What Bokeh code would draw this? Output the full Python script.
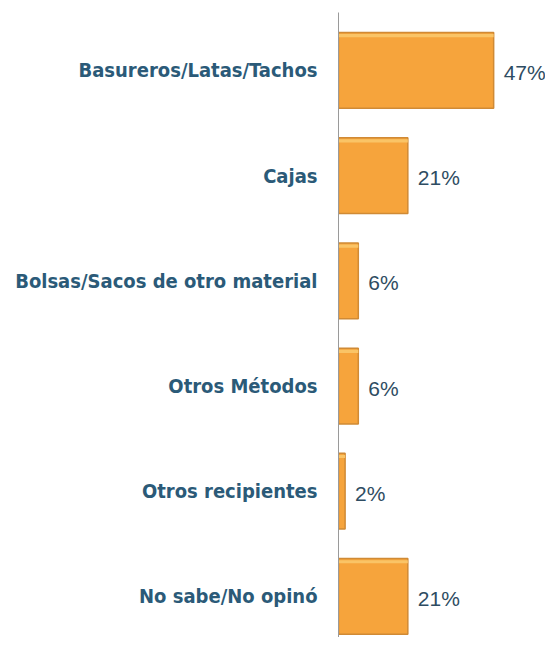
from bokeh.plotting import figure
from bokeh.models import ColumnDataSource, Range1d, FixedTicker
from bokeh.core.properties import value
from bokeh.embed import file_html
from bokeh.resources import INLINE

categories = ["Basureros/Latas/Tachos", "Cajas", "Bolsas/Sacos de otro material",
              "Otros Métodos", "Otros recipientes", "No sabe/No opinó"]
values = [47, 21, 6, 6, 2, 21]
value_labels = ["47%", "21%", "6%", "6%", "2%", "21%"]

pos = list(range(len(categories)))
src = ColumnDataSource(dict(
    y=pos, v=values, lab=value_labels, zero=[0] * len(pos),
    ytop=[i - 0.33 for i in pos],
))

p = figure(width=545, height=637, output_backend="svg", toolbar_location=None,
           x_range=Range1d(0, 62.7), y_range=Range1d(5.39, -0.55),
           min_border_left=338, min_border_right=0, min_border_top=12, min_border_bottom=0)
p.outline_line_color = None
p.xgrid.visible = False
p.ygrid.visible = False
p.xaxis.visible = False
p.background_fill_color = "white"
p.border_fill_color = "white"

ax = p.yaxis[0]
ax.ticker = FixedTicker(ticks=pos)
ax.major_label_overrides = {i: c for i, c in zip(pos, categories)}
ax.major_tick_line_color = None
ax.minor_tick_line_color = None
ax.major_tick_out = 0
ax.major_tick_in = 0
ax.axis_line_color = "#9a9a9a"
ax.axis_line_width = 1
ax.major_label_standoff = 21
ax.major_label_text_font = "DejaVu Sans Condensed"
ax.major_label_text_font_style = "bold"
ax.major_label_text_font_size = "20px"
ax.major_label_text_color = "#2B5A78"
ax.major_label_text_baseline = "alphabetic"

p.hbar(y="y", left="zero", right="v", height=0.72, source=src,
       fill_color="#F6A43C", line_color="#D08A35", line_width=1.5)
# light top highlight of each bar
p.hbar(y="ytop", left="zero", right="v", height=0.03, source=src,
       fill_color="#FAC466", line_color=None)

p.text(x="v", y="y", text="lab", source=src, x_offset=10, y_offset=2,
       text_align="left", text_baseline="middle",
       text_font=value("Liberation Sans"), text_font_size="21px",
       text_color="#2E4C62")

open("out.html", "w").write(file_html(p, INLINE))
